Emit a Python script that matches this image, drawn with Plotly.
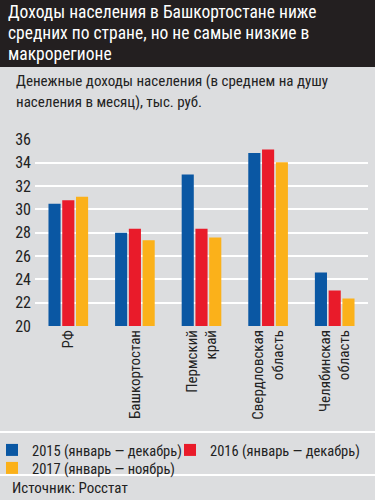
import plotly.graph_objects as go

categories = ["РФ", "Башкортостан", "Пермский<br>край", "Свердловская<br>область", "Челябинская<br>область"]
series_names = ["2015 (январь — декабрь)", "2016 (январь — декабрь)", "2017 (январь — ноябрь)"]
values_2015 = [30.5, 28.0, 33.0, 34.85, 24.6]
values_2016 = [30.8, 28.35, 28.35, 35.15, 23.05]
values_2017 = [31.1, 27.35, 27.6, 34.05, 22.35]
y_ticks = [20, 22, 24, 26, 28, 30, 32, 34, 36]

title_lines = ["Доходы населения в Башкортостане ниже", "средних по стране, но не самые низкие в", "макрорегионе"]
subtitle_lines = ["Денежные доходы населения (в среднем на душу", "населения в месяц), тыс. руб."]
source_text = "Источник: Росстат"

colors = ["#0a57a3", "#e91b2a", "#fbb11a"]
BG = "#dcdddf"
FONT = "Roboto Condensed, DejaVu Sans Condensed, Liberation Sans Narrow, Roboto, sans-serif"

W, H = 375, 500
ML, MR, MT, MB = 35, 7, 139, 174
PW = W - ML - MR
PH = H - MT - MB

def px(x):
    return (x - ML) / PW

def py(y):
    return 1 - (y - MT) / PH

legend_ids = ["legend", "legend2", "legend3"]
legend_pos = [(-8, 434), (170, 434), (-8, 452)]

fig = go.Figure()
for name, vals, c, lid in zip(series_names, [values_2015, values_2016, values_2017], colors, legend_ids):
    fig.add_trace(go.Bar(x=categories, y=vals, name=name, legend=lid,
                         marker=dict(color=c, line=dict(width=0))))

fig.update_layout(
    width=W, height=H,
    margin=dict(l=ML, r=MR, t=MT, b=MB, pad=0, autoexpand=False),
    paper_bgcolor=BG, plot_bgcolor=BG,
    barmode="group", bargap=0.38, bargroupgap=0.12,
    font=dict(family=FONT, color="#222222", size=14),
    showlegend=True,
)
for lid, (lx, ly) in zip(legend_ids, legend_pos):
    fig.update_layout({lid: dict(
        orientation="h", x=px(lx), y=py(ly), xanchor="left", yanchor="top",
        bgcolor="rgba(0,0,0,0)", font=dict(size=14.5, color="#222222", family=FONT),
        itemwidth=30,
    )})

fig.update_yaxes(
    range=[20, 36.05], tickvals=y_ticks, showgrid=True, gridcolor="white", gridwidth=2,
    zeroline=False, showline=False, ticks="", ticklabelstandoff=3, automargin=False,
    tickfont=dict(size=16, color="#222222"), fixedrange=True,
)
fig.update_xaxes(
    tickangle=-90, showgrid=False, showline=False, ticks="", automargin=False,
    tickfont=dict(size=15, color="#222222"), fixedrange=True,
)

# title band
fig.add_shape(type="rect", xref="paper", yref="paper", x0=px(0), x1=px(W), y0=py(67), y1=py(0),
              fillcolor="#231f20", line=dict(width=0), layer="below")
for i, t in enumerate(title_lines):
    fig.add_annotation(xref="paper", yref="paper", x=px(6), y=py(12 + 21 * i), xanchor="left", yanchor="middle",
                       text=t, showarrow=False, align="left", font=dict(size=17.5, color="white", family=FONT))
for i, t in enumerate(subtitle_lines):
    fig.add_annotation(xref="paper", yref="paper", x=px(14), y=py(81 + 20.5 * i), xanchor="left", yanchor="middle",
                       text=t, showarrow=False, align="left", font=dict(size=15, color="#222222", family=FONT))
# separators
for yy in [432, 475]:
    fig.add_shape(type="line", xref="paper", yref="paper", x0=px(0), x1=px(W), y0=py(yy), y1=py(yy),
                  line=dict(color="white", width=2))
fig.add_annotation(xref="paper", yref="paper", x=px(10), y=py(488), xanchor="left", yanchor="middle",
                   text=source_text, showarrow=False, font=dict(size=15, color="#222222", family=FONT))

fig.write_html("out.html", config={"displayModeBar": False},
               post_script="document.body.style.margin='0';document.body.style.padding='0';")
